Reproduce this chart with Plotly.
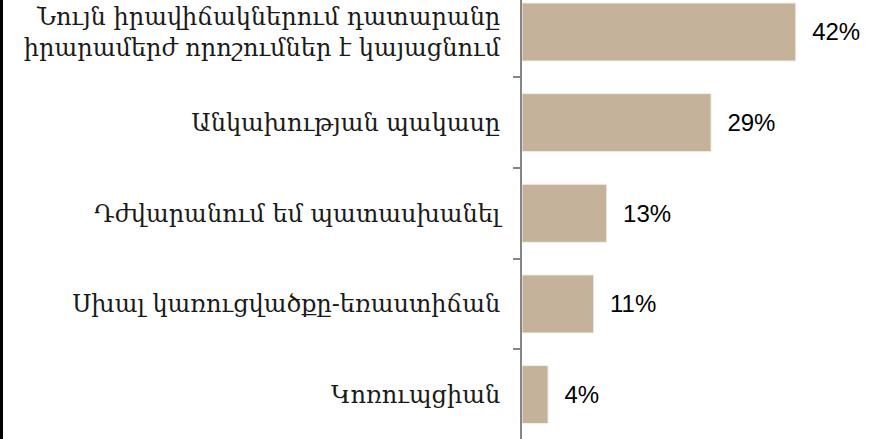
import plotly.graph_objects as go

categories = [
    "Նույն իրավիճակներում դատարանը<br>իրարամերժ որոշումներ է կայացնում",
    "Անկախության պակասը",
    "Դժվարանում եմ պատասխանել",
    "Սխալ կառուցվածքը-եռաստիճան",
    "Կոռուպցիան",
]
values = [42, 29, 13, 11, 4]

BAR = "#C4B29A"
W, H = 883, 439
L = 522

fig = go.Figure()
fig.add_trace(go.Bar(
    x=values, y=categories, orientation="h",
    marker=dict(color=BAR, line=dict(color="#F3EFEA", width=1)),
    width=0.64,
    text=[f"{v}%" for v in values],
    texttemplate="  %{text}",
    textposition="outside",
    textfont=dict(family="Liberation Sans, Arial, sans-serif", size=24, color="#000000"),
    cliponaxis=False,
    hoverinfo="skip",
))

fig.update_layout(
    width=W, height=H,
    margin=dict(l=L, r=0, t=0, b=0),
    paper_bgcolor="white", plot_bgcolor="white",
    showlegend=False,
    xaxis=dict(range=[0, (W - L) / 6.52], visible=False, fixedrange=True),
    yaxis=dict(
        type="category",
        range=[4.49, -0.353],
        showline=True, linecolor="#868686", linewidth=2,
        ticks="outside", tickson="boundaries", ticklen=7, tickcolor="#868686", tickwidth=2,
        ticklabelstandoff=15,
        tickfont=dict(family="DejaVu Serif, serif", size=24, color="#1a1a1a"),
        showgrid=False, zeroline=False, fixedrange=True,
    ),
    shapes=[dict(
        type="line", xref="paper", yref="paper",
        x0=-L / (W - L) + 1.5 / (W - L), x1=-L / (W - L) + 1.5 / (W - L),
        y0=0, y1=1, line=dict(color="black", width=3),
    )],
)

# the page body has a default 8px margin; drop it so the figure sits at the corner
fig.write_html("out.html", config={"displayModeBar": False},
               post_script="document.body.style.margin='0';")
